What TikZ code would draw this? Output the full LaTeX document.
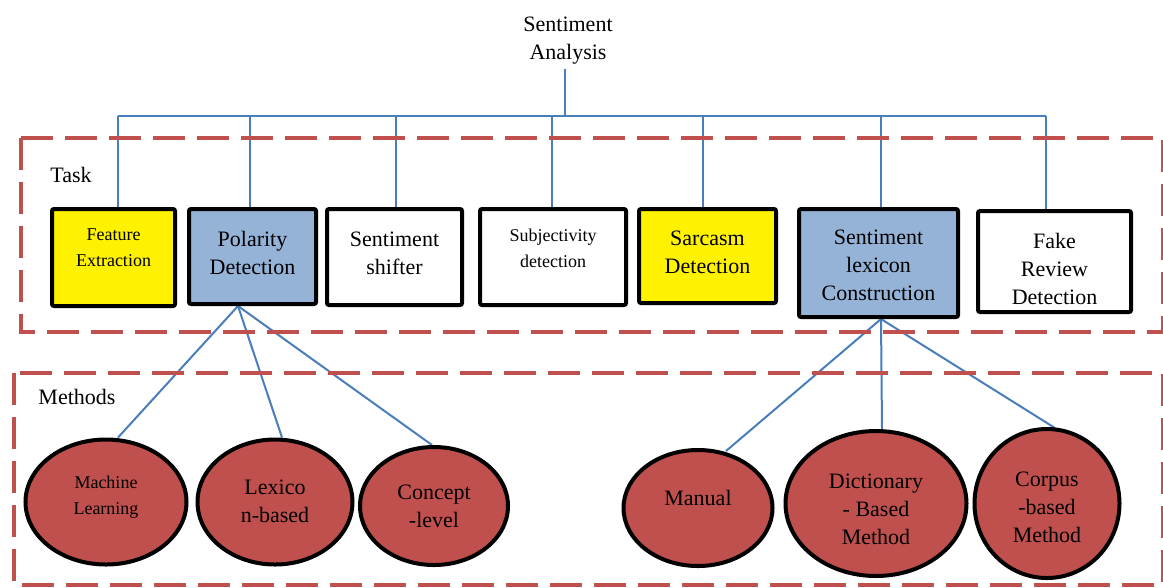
\documentclass[tikz,border=0pt]{standalone}
\usepackage{fontspec}
\setmainfont{Liberation Serif}
\newfontfamily\tnr{Liberation Serif}
\usetikzlibrary{shapes.geometric,calc,backgrounds}
\definecolor{dashred}{HTML}{C0504D}
\definecolor{fillred}{HTML}{C0504D}
\definecolor{boxblue}{HTML}{95B3D7}
\definecolor{linkblue}{HTML}{4A7EBB}
\begin{document}
\begin{tikzpicture}[x=0.75pt,y=-0.75pt,
  sz/.style 2 args={minimum width=#1*0.75pt, minimum height=#2*0.75pt},
  taskbox/.style={draw=black, line width=3pt, rounded corners=1.5pt, inner sep=0pt},
  methodnode/.style={ellipse, draw=black, line width=3pt, fill=fillred, inner sep=0pt},
  big/.style={font=\tnr\fontsize{16.5}{21}\selectfont, align=center, inner sep=0pt},
  small/.style={font=\tnr\fontsize{13.5}{19.5}\selectfont, align=center, inner sep=0pt},
  link/.style={draw=linkblue, line width=1.5pt},
  region/.style={draw=dashred, line width=3pt, dash pattern=on 24pt off 9pt}]
\useasboundingbox (0,0) rectangle (1163,587);

% regions
\draw[region] (21,138) rectangle (1163,332);
\draw[region] (14,373) rectangle (1163,585);
\node[big] (tasklbl) at (71,175) {Task};
\node[big] (methlbl) at (77,397) {Methods};

% root
\node[big] (sa) at (568,41) {Sentiment\\Analysis};
\coordinate (bus) at (565,116);
\coordinate (busL) at (118,116);
\coordinate (busR) at (1046,116);

% task boxes
\node[taskbox, fill=yellow, sz={123}{97}] (fe) at (113.5,257.5) {};
\node[taskbox, fill=boxblue, sz={127}{95}] (pd) at (252.5,256.5) {};
\node[taskbox, fill=white, sz={135}{96}] (ss) at (394.5,257) {};
\node[taskbox, fill=white, sz={146}{96}] (sd) at (553,257) {};
\node[taskbox, fill=yellow, sz={137}{94}] (sc) at (707.5,256) {};
\node[taskbox, fill=boxblue, sz={159}{108}] (slc) at (878.5,263) {};
\node[taskbox, fill=white, sz={153}{101}] (fr) at (1054.5,261.5) {};

\node[small] (fe-t) at (113.5,248) {Feature\\Extraction};
\node[big] (pd-t) at (252.5,253) {Polarity\\Detection};
\node[big] (ss-t) at (394.5,253) {Sentiment\\shifter};
\node[small] (sd-t) at (553,248.5) {Subjectivity\\detection};
\node[big] (sc-t) at (707.5,252) {Sarcasm\\Detection};
\node[big] (slc-t) at (878.5,265) {Sentiment\\lexicon\\Construction};
\node[big] (fr-t) at (1054.5,269) {Fake\\Review\\Detection};

% methods
\node[methodnode, sz={161}{125}] (ml) at (106,502) {};
\node[methodnode, sz={155}{125}] (lx) at (275,502) {};
\node[methodnode, sz={148}{118}] (cl) at (434,506) {};
\node[methodnode, sz={149}{116}] (mn) at (698,508) {};
\node[methodnode, sz={181}{145}] (dc) at (876,503.5) {};
\node[methodnode, sz={145}{149}] (cp) at (1047,503.5) {};

\node[small] (ml-t) at (106,497) {Machine\\Learning};
\node[big] (lx-t) at (275,501) {Lexico\\n-based};
\node[big] (cl-t) at (434,506.5) {Concept\\-level};
\node[big] (mn-t) at (698,498) {Manual};
\node[big] (dc-t) at (876,509) {Dictionary\\- Based\\Method};
\node[big] (cp-t) at (1047,507) {Corpus\\-based\\Method};

% connectors
\begin{pgfonlayer}{background}
\draw[link] ($(sa.south -| bus)+(0,4)$) -- (bus);
\draw[link] (busL) -- (busR);
\draw[link] ($(fe.north)+(4.5,0)$) |- (busL);
\draw[link] ($(pd.north)+(-2.5,0)$) |- (bus);
\draw[link] ($(ss.north)+(1.5,0)$) |- (bus);
\draw[link] ($(sd.north)+(-1,0)$) |- (bus);
\draw[link] ($(sc.north)+(-4.5,0)$) |- (bus);
\draw[link] ($(slc.north)+(2.5,0)$) |- (bus);
\draw[link] ($(fr.north)+(-8.5,0)$) |- (busR);

\draw[link] ($(pd.south)+(-14.5,0)$) -- ($(ml.north)+(12,0)$);
\draw[link] ($(pd.south)+(-14.5,0)$) -- ($(lx.north)+(7,0)$);
\draw[link] ($(pd.south)+(-14.5,0)$) -- ($(cl.north)+(-2,0)$);
\draw[link] ($(slc.south)+(2.5,0)$) -- ($(mn.north)+(28,3)$);
\draw[link] ($(slc.south)+(2.5,0)$) -- ($(dc.north)+(6,0)$);
\draw[link] ($(slc.south)+(2.5,0)$) -- ($(cp.north)+(8,1)$);
\end{pgfonlayer}
\end{tikzpicture}
\end{document}
